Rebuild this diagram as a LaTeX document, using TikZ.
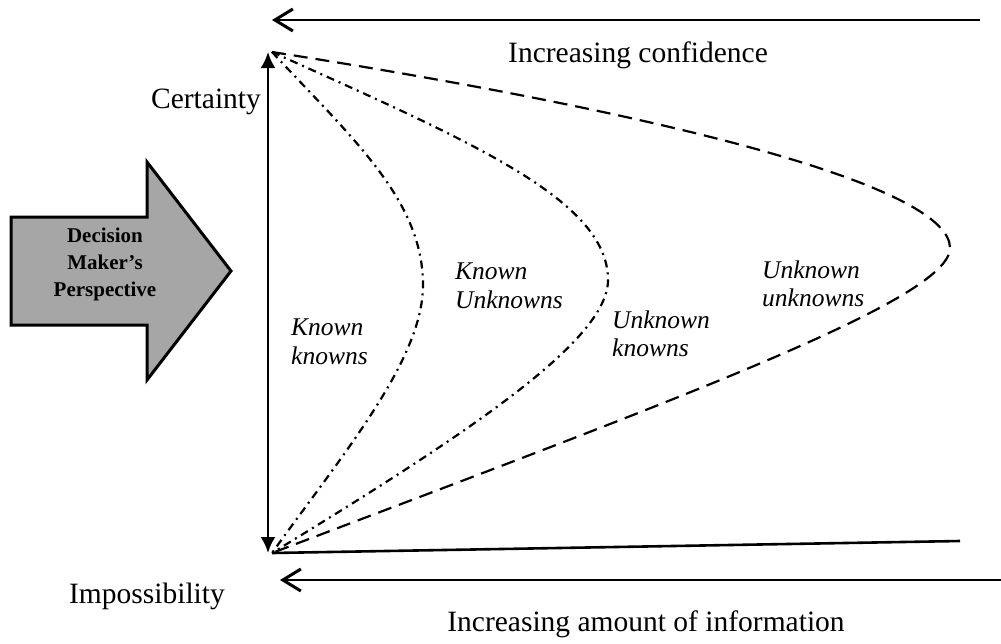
\documentclass[tikz,border=0pt]{standalone}
\usepackage{fontspec}
\setmainfont{Liberation Serif}
\usepackage{tikz}
\usetikzlibrary{positioning,calc,arrows.meta}
\definecolor{figgray}{HTML}{A6A6A6}
\tikzset{
  figfont/.style={font=\fontsize{29.5}{32}\selectfont},
  figlabel/.style={font=\fontsize{25.5}{28.5}\selectfont\itshape, align=left, anchor=west, inner sep=0pt},
  figaxis/.style={-{Straight Barb[length=18pt,width=22pt,line width=3pt]}, line width=2.6pt},
  figdouble/.style={{Latex[length=16pt,width=15pt]}-{Latex[length=16pt,width=15pt]}, line width=2.6pt},
  figdashdot/.style={line width=2.2pt, dash pattern=on 8pt off 5pt on 2pt off 5pt},
  figdashed/.style={line width=2.2pt, dash pattern=on 14pt off 8pt},
  figbigarrow/.style={draw, line width=3pt, fill=figgray, line join=miter},
}

\begin{document}
\begin{tikzpicture}[x=1pt, y=-1pt, figfont]
	\useasboundingbox (0,0) rectangle (1001,643);
	% end points on the left
	\coordinate (top) at (272,52);
	\coordinate (bot) at (272,553);
	% tips of the curves
	\coordinate (tipA) at (423,285);
	\coordinate (tipB) at (608,280);
	\coordinate (tipC) at (950,248);

	% axes at top and bottom
	\coordinate (confR) at (980,20);
	\coordinate (confL) at (272,20);
	\draw[figaxis] (confR) -- (confL);
	\node (conf) at (638,55) {Increasing confidence};

	\coordinate (infoR) at (1001,580);
	\coordinate (infoL) at (280,580);
	\draw[figaxis] (infoR) -- (infoL);
	\node (info) at (646,624) {Increasing amount of information};

	% vertical scale
	\draw[figdouble] (268,553) -- (268,52);
	\node (cert) at (206,102) {Certainty};
	\node (imp) at (147,596) {Impossibility};
	\coordinate (baseR) at (960,541);
	\draw[line width=2.6pt] (bot) -- (baseR);

	% decision maker arrow
	\draw[figbigarrow] (11,217) -- (147,217) -- (147,162) -- (231,271) -- (147,380)
		-- (147,325) -- (11,325) -- cycle;
	\node[font=\fontsize{21}{27}\selectfont\bfseries, align=center] (dm) at (105,264)
		{Decision\\Maker's\\Perspective};

	% curves
	\draw[figdashdot] (top) .. controls (352,138) and (423,200) .. (tipA)
		.. controls (423,360) and (342,455) .. (bot);
	\draw[figdashdot] (top) .. controls (472,142) and (608,200) .. (tipB)
		.. controls (608,340) and (472,431) .. (bot);
	\draw[figdashed] (top) .. controls (700,119) and (950,190) .. (tipC)
		.. controls (950,300) and (672,401) .. (bot);

	% region labels
	\node[figlabel] (kk) at (291,342) {Known\\knowns};
	\node[figlabel] (ku) at (455,286) {Known\\Unknowns};
	\node[figlabel] (uk) at (612,334) {Unknown\\knowns};
	\node[figlabel] (uu) at (762,284) {Unknown\\unknowns};
\end{tikzpicture}
\end{document}
